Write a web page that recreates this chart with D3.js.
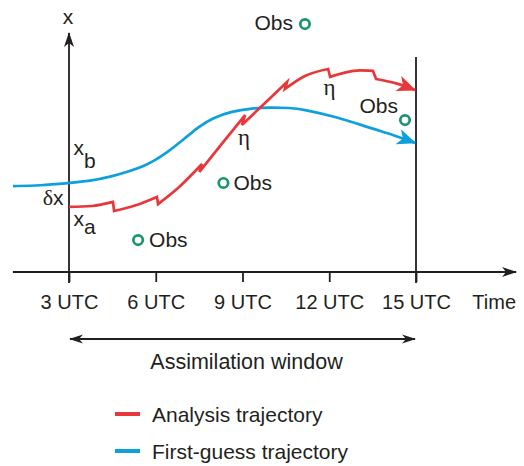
<!DOCTYPE html>
<html>
<head>
<meta charset="utf-8">
<script src="https://cdn.jsdelivr.net/npm/d3@7"></script>
<style>
  html, body { margin: 0; padding: 0; background: #fff; }
  svg { display: block; font-family: "Liberation Sans", Arial, Helvetica, sans-serif; }
</style>
</head>
<body>
<svg id="chart" width="524" height="466"></svg>
<script>
// ---- data -------------------------------------------------------------
// Time axis (hours UTC) and its labels
const tickHours = [3, 6, 9, 12, 15];
const tickLabels = ["3 UTC", "6 UTC", "9 UTC", "12 UTC", "15 UTC"];
const windowStart = 3;
const windowEnd = 15;

// First-guess (background) trajectory: [hour, state]
const firstGuess = [
  [1.06, 3.58], [2.0, 3.60], [3.0, 3.71], [3.73, 3.79], [4.42, 3.96],
  [5.11, 4.21], [5.56, 4.40], [5.97, 4.65], [6.39, 4.98], [6.84, 5.40],
  [7.53, 6.10], [7.98, 6.42], [8.57, 6.68], [9.36, 6.83], [9.95, 6.86],
  [10.64, 6.84], [11.09, 6.78], [12.27, 6.46], [13.41, 6.0], [14.27, 5.69],
  [14.97, 5.38]
];

// Analysis trajectory: smooth model legs, each followed by a jump (model error η)
const analysisLegs = [
  [[3.0, 2.71], [3.80, 2.75], [4.52, 2.92]],
  [[4.56, 2.54], [5.28, 2.77], [6.04, 3.13]],
  [[6.08, 2.83], [6.77, 3.50], [7.60, 4.50]],
  [[7.51, 4.17], [8.29, 5.35], [9.09, 6.54]],
  [[8.98, 6.13], [9.78, 7.04], [10.54, 7.92]],
  [[10.47, 7.63], [11.16, 8.17], [11.96, 8.46]],
  [[12.03, 8.13], [12.54, 8.31], [13.06, 8.40], [13.51, 8.38]],
  [[13.62, 8.04], [14.34, 7.85], [14.97, 7.58]]
];

// Observations: [hour, state]
const observations = [
  [11.16, 10.33],
  [14.62, 6.33],
  [8.34, 3.71],
  [5.39, 1.33]
];
const obsLabel = "Obs";

const seriesNames = ["Analysis trajectory", "First-guess trajectory"];
const seriesColors = ["#e8373a", "#0ea0dc"];

// ---- layout -------------------------------------------------------------
const ink = "#231f20";
const obsColor = "#1a9470";
const svg = d3.select("#chart");

const x = d3.scaleLinear().domain([windowStart, windowEnd]).range([69, 416]);
const y = d3.scaleLinear().domain([0, 10]).range([272, 32]);

const axisY0 = y(0);
const xLeft = x(1.06), xRight = x(18.46);
const yTop = y(9.96);

// arrowhead markers
const defs = svg.append("defs");
function marker(id, color, len, half, notch) {
  defs.append("marker")
    .attr("id", id)
    .attr("viewBox", `${-len - 1} ${-half - 1} ${len + 3} ${2 * half + 2}`)
    .attr("refX", 0).attr("refY", 0)
    .attr("markerUnits", "userSpaceOnUse")
    .attr("markerWidth", len + 3).attr("markerHeight", 2 * half + 2)
    .attr("orient", "auto-start-reverse")
    .append("path")
    .attr("d", `M1,0 L${-len},${-half} L${-len + notch},0 L${-len},${half} Z`)
    .attr("fill", color);
}
marker("arr-axis", ink, 14, 5, 4);
marker("arr-win", ink, 13, 4.5, 4);
marker("arr-red", seriesColors[0], 18, 8, 5);
marker("arr-blue", seriesColors[1], 18, 8, 5);

// ---- axes -----------------------------------------------------------------
const xAxis = d3.axisBottom(x)
  .tickValues(tickHours)
  .tickFormat((d, i) => tickLabels[i])
  .tickSize(10)
  .tickPadding(12.5);

const gx = svg.append("g")
  .attr("transform", `translate(0,${axisY0})`)
  .call(xAxis);
gx.select(".domain").remove();
gx.selectAll(".tick line").attr("stroke", ink).attr("stroke-width", 1.8);
gx.selectAll(".tick text")
  .attr("fill", ink)
  .attr("font-size", 20)
  .attr("font-family", "Liberation Sans, Arial, sans-serif");

// time axis line with arrow
svg.append("line")
  .attr("x1", xLeft).attr("x2", xRight)
  .attr("y1", axisY0).attr("y2", axisY0)
  .attr("stroke", ink).attr("stroke-width", 1.8)
  .attr("marker-end", "url(#arr-axis)");

svg.append("text")
  .attr("x", xRight).attr("y", 309)
  .attr("text-anchor", "end")
  .attr("font-size", 20).attr("fill", ink)
  .text("Time");

// state axis (start of window) with arrow
svg.append("line")
  .attr("x1", x(windowStart)).attr("x2", x(windowStart))
  .attr("y1", axisY0 + 11).attr("y2", yTop)
  .attr("stroke", ink).attr("stroke-width", 1.8)
  .attr("marker-end", "url(#arr-axis)");

svg.append("text")
  .attr("x", x(windowStart) - 1).attr("y", 24)
  .attr("text-anchor", "middle")
  .attr("font-size", 21).attr("fill", ink)
  .text("x");

// end of window
svg.append("line")
  .attr("x1", x(windowEnd)).attr("x2", x(windowEnd))
  .attr("y1", axisY0 + 11).attr("y2", y(8.96))
  .attr("stroke", ink).attr("stroke-width", 1.8);

// ---- trajectories ------------------------------------------------------------
const smooth = d3.line().x(d => x(d[0])).y(d => y(d[1])).curve(d3.curveBasis);
const leg = d3.line().x(d => x(d[0])).y(d => y(d[1])).curve(d3.curveMonotoneX);

svg.append("path")
  .attr("d", smooth(firstGuess))
  .attr("fill", "none")
  .attr("stroke", seriesColors[1])
  .attr("stroke-width", 2.7)
  .attr("marker-end", "url(#arr-blue)");

// join the legs into one path: each jump is a straight drop
const analysisPath = analysisLegs
  .map((seg, i) => { const p = leg(seg); return i === 0 ? p : "L" + p.slice(1); })
  .join("");
svg.append("path")
  .attr("d", analysisPath)
  .attr("fill", "none")
  .attr("stroke", seriesColors[0])
  .attr("stroke-width", 2.7)
  .attr("stroke-linejoin", "miter")
  .attr("marker-end", "url(#arr-red)");

// ---- observations -------------------------------------------------------------
// label placement relative to each marker: [dx, dy, anchor]
const obsLabelPlacement = [[-12, 6, "end"], [-7, -7, "end"], [10, 7, "start"], [11, 7, "start"]];

const obsG = svg.append("g");
obsG.selectAll("circle")
  .data(observations)
  .join("circle")
  .attr("cx", d => x(d[0])).attr("cy", d => y(d[1]))
  .attr("r", 4.7)
  .attr("fill", "#fff")
  .attr("stroke", obsColor)
  .attr("stroke-width", 2.7);

obsG.selectAll("text")
  .data(observations)
  .join("text")
  .attr("x", (d, i) => x(d[0]) + obsLabelPlacement[i][0])
  .attr("y", (d, i) => y(d[1]) + obsLabelPlacement[i][1])
  .attr("text-anchor", (d, i) => obsLabelPlacement[i][2])
  .attr("font-size", 21).attr("fill", ink)
  .text(obsLabel);

// ---- annotations ------------------------------------------------------------------
function subscripted(px, py, main, sub, subDx, subDy) {
  const t = svg.append("text").attr("x", px).attr("y", py)
    .attr("font-size", 21).attr("fill", ink);
  t.append("tspan").text(main);
  t.append("tspan").attr("dx", subDx).attr("dy", subDy).text(sub);
}
subscripted(73.5, 155, "x", "b", 0, 13);
subscripted(73.5, 226, "x", "a", 0, 8);

const dx = svg.append("text").attr("x", 63.5).attr("y", 205)
  .attr("text-anchor", "end").attr("font-size", 21).attr("fill", ink);
dx.append("tspan").attr("font-family", "Liberation Serif, serif").attr("font-size", 22).text("δ");
dx.append("tspan").text("x");

const etaLabels = [[238, 145], [323.5, 95]];
svg.selectAll("text.eta")
  .data(etaLabels)
  .join("text")
  .attr("class", "eta")
  .attr("x", d => d[0]).attr("y", d => d[1])
  .attr("font-family", "Liberation Serif, serif")
  .attr("font-size", 23).attr("fill", ink)
  .text("η");

// ---- assimilation window ---------------------------------------------------------------
svg.append("line")
  .attr("x1", x(windowStart) + 1).attr("x2", x(windowEnd) - 1)
  .attr("y1", 339).attr("y2", 339)
  .attr("stroke", ink).attr("stroke-width", 1.8)
  .attr("marker-start", "url(#arr-win)")
  .attr("marker-end", "url(#arr-win)");

svg.append("text")
  .attr("x", (x(windowStart) + x(windowEnd)) / 2 + 4).attr("y", 369)
  .attr("text-anchor", "middle")
  .attr("font-size", 21.5).attr("fill", ink)
  .text("Assimilation window");

// ---- legend ---------------------------------------------------------------------------
const legendRows = [421.5, 458.5];
const lg = svg.append("g");
lg.selectAll("line")
  .data(seriesNames)
  .join("line")
  .attr("x1", 115).attr("x2", 140)
  .attr("y1", (d, i) => legendRows[i] - 7.5).attr("y2", (d, i) => legendRows[i] - 7.5)
  .attr("stroke", (d, i) => seriesColors[i])
  .attr("stroke-width", 4);
lg.selectAll("text")
  .data(seriesNames)
  .join("text")
  .attr("x", 152).attr("y", (d, i) => legendRows[i])
  .attr("font-size", 21).attr("fill", ink)
  .text(d => d);
</script>
</body>
</html>
